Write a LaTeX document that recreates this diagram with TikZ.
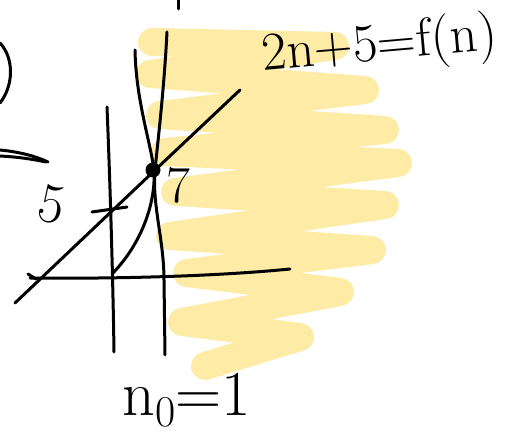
\documentclass[tikz,border=0pt]{standalone}
\usepackage{fontspec}
\usepackage{tikz}
\definecolor{hl}{RGB}{254,235,166}
\tikzset{
  ink/.style={line width=3pt, line cap=round, line join=round, black},
  marker/.style={line width=28pt, line cap=round, line join=round, hl},
  hand/.style={inner sep=0pt, black}
}
\begin{document}
\begin{tikzpicture}[x=1pt,y=-1pt]
\useasboundingbox (0,0) rectangle (507,438);
% highlighter scribble
\draw[marker] (152,42) -- (335,46) -- (150,74) -- (365,90) -- (160,115) -- (385,130)
  -- (165,152) -- (398,163) -- (175,192) -- (385,205) -- (170,236) -- (372,250)
  -- (187,273) -- (340,292) -- (182,322) -- (300,337) -- (205,366);
% top tick
\draw[ink] (178,0) -- (178,9);
% left parenthesis
\draw[ink] (0,43) .. controls (14,58) and (14,85) .. (0,103);
% left stroke
\draw[ink] (0,150) .. controls (20,152) and (35,156) .. (48,162);
\draw[ink] (0,156) .. controls (18,157) and (32,159) .. (46,162);
% x axis
\draw[ink] (30,278) .. controls (120,279) and (220,276) .. (290,269);
% y axis
\draw[ink] (107,107) .. controls (110,180) and (113,280) .. (114,352);
% vertical n0 line
\draw[ink] (167,32) .. controls (164,90) and (158,140) .. (155,170)
  .. controls (152,205) and (164,240) .. (164,280) -- (165,355);
% curve through the dot
\draw[ink] (135,50) .. controls (136,100) and (150,140) .. (154,170)
  .. controls (156,205) and (140,245) .. (113,273);
% diagonal line 2n+5
\draw[ink] (15,303) -- (113,210) -- (153,172) -- (240,90);
\draw[ink] (28,274) -- (36,279);
% tick at 5
\draw[ink] (92,212) -- (127,207);
% dot
\fill (153,170) circle (7.5);
% labels
\node[hand, rotate=-12] (five) at (52,205) {\fontsize{56}{56}\selectfont 5};
\node[hand] (seven) at (178,185) {\fontsize{52}{52}\selectfont 7};
\node[hand, rotate=5, anchor=west] (fn) at (262,57) {\fontsize{54}{54}\selectfont 2n+5=f(n)};
\node[hand] (n0) at (187,400) {\fontsize{64}{64}\selectfont n\raisebox{-0.18em}{\fontsize{44}{44}\selectfont 0}=1};
\end{tikzpicture}
\end{document}
